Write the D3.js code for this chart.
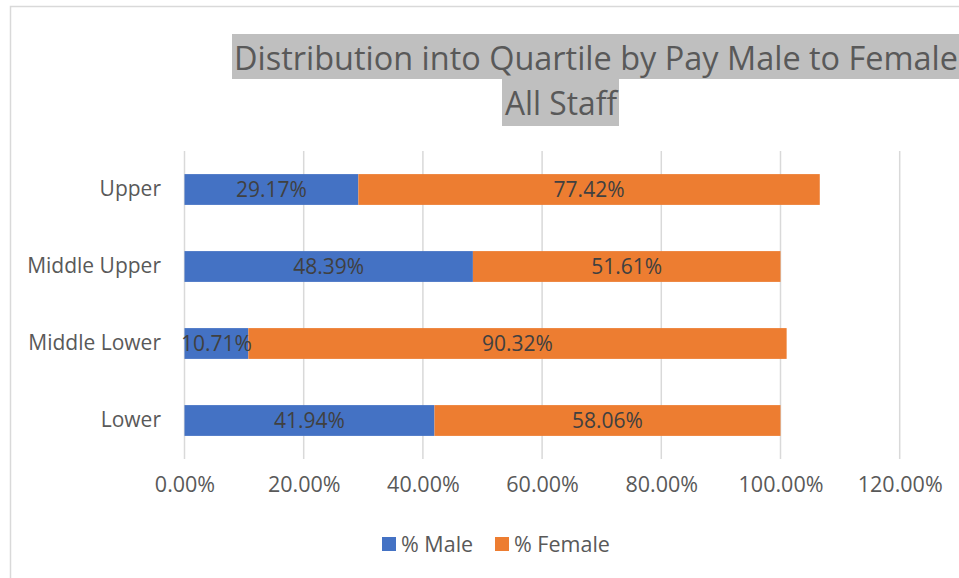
<!DOCTYPE html>
<html>
<head>
<meta charset="utf-8">
<script src="https://cdn.jsdelivr.net/npm/d3@7"></script>
<style>
  body { margin: 0; background: #fff; }
  text { font-family: "Open Sans", sans-serif; }
</style>
</head>
<body>
<div id="chart"></div>
<script>
// data
var quartiles = ["Upper", "Middle Upper", "Middle Lower", "Lower"];
var malePct = [29.17, 48.39, 10.71, 41.94];
var femalePct = [77.42, 51.61, 90.32, 58.06];
var tickValues = [0, 20, 40, 60, 80, 100, 120];
var seriesNames = ["% Male", "% Female"];
var seriesColors = ["#4472c4", "#ed7d31"];

var svgWidth = 959;
var svgHeight = 578;

var svg = d3.select("#chart").append("svg")
  .attr("width", svgWidth)
  .attr("height", svgHeight);

// chart border
svg.append("rect")
  .attr("x", 10.5).attr("y", 6.5)
  .attr("width", 1000).attr("height", 600)
  .attr("fill", "#fff")
  .attr("stroke", "#d9d9d9")
  .attr("stroke-width", 1.5);

// title with grey highlight
svg.append("rect")
  .attr("x", 232).attr("y", 34)
  .attr("width", 740).attr("height", 45)
  .attr("fill", "#bfbfbf");
svg.append("rect")
  .attr("x", 502).attr("y", 79)
  .attr("width", 117).attr("height", 47)
  .attr("fill", "#bfbfbf");
svg.append("text")
  .attr("x", 234).attr("y", 70)
  .attr("font-size", 32)
  .attr("fill", "#595959")
  .attr("textLength", 724)
  .attr("lengthAdjust", "spacingAndGlyphs")
  .text("Distribution into Quartile by Pay Male to Female");
svg.append("text")
  .attr("x", 505).attr("y", 115)
  .attr("font-size", 32)
  .attr("fill", "#595959")
  .attr("textLength", 112)
  .attr("lengthAdjust", "spacingAndGlyphs")
  .text("All Staff");

// scales
var xScale = d3.scaleLinear()
  .domain([0, 120])
  .range([184.5, 899.7]);

var yScale = d3.scaleBand()
  .domain(quartiles)
  .range([151, 459])
  .paddingInner(0.6)
  .paddingOuter(0.3);

// gridlines
svg.append("g")
  .selectAll("line")
  .data(tickValues)
  .enter()
  .append("line")
  .attr("x1", d => xScale(d))
  .attr("x2", d => xScale(d))
  .attr("y1", 151)
  .attr("y2", 459)
  .attr("stroke", "#d9d9d9")
  .attr("stroke-width", 1.5);

// x axis labels
var xAxis = d3.axisBottom(xScale)
  .tickValues(tickValues)
  .tickFormat(d => d.toFixed(2) + "%")
  .tickSize(0)
  .tickPadding(0);
var xAxisGroup = svg.append("g")
  .attr("transform", "translate(0, 477)")
  .call(xAxis);
xAxisGroup.select(".domain").remove();
xAxisGroup.selectAll("text")
  .attr("font-family", "Open Sans, sans-serif")
  .attr("font-size", 21.5)
  .attr("fill", "#595959");

// y axis labels
var yAxis = d3.axisLeft(yScale).tickSize(0).tickPadding(0);
var yAxisGroup = svg.append("g")
  .attr("transform", "translate(161, 0)")
  .call(yAxis);
yAxisGroup.select(".domain").remove();
yAxisGroup.selectAll("text")
  .attr("font-family", "Open Sans, sans-serif")
  .attr("font-size", 21)
  .attr("fill", "#595959");

// stacked segments
var rows = quartiles.map((q, i) => ({ q: q, vals: [malePct[i], femalePct[i]] }));
var segs = [];
rows.forEach(function(r) {
  var start = 0;
  r.vals.forEach(function(v, s) {
    segs.push({ q: r.q, s: s, x0: start, x1: start + v, v: v });
    start += v;
  });
});

var barGroup = svg.append("g");
barGroup.selectAll("rect")
  .data(segs)
  .enter()
  .append("rect")
  .attr("x", d => xScale(d.x0))
  .attr("y", d => yScale(d.q))
  .attr("width", d => xScale(d.x1) - xScale(d.x0))
  .attr("height", yScale.bandwidth())
  .attr("fill", d => seriesColors[d.s]);

barGroup.selectAll("text")
  .data(segs)
  .enter()
  .append("text")
  .attr("x", d => (xScale(d.x0) + xScale(d.x1)) / 2)
  .attr("y", d => yScale(d.q) + yScale.bandwidth() / 2 + 7.5)
  .attr("text-anchor", "middle")
  .attr("font-size", 21)
  .attr("fill", "#404040")
  .text(d => d.v.toFixed(2) + "%");

// legend
var legendX = [382, 495];
var legend = svg.append("g").selectAll("g")
  .data(seriesNames)
  .enter()
  .append("g")
  .attr("transform", (d, i) => `translate(${legendX[i]}, 537)`);
legend.append("rect")
  .attr("width", 14).attr("height", 14)
  .attr("fill", (d, i) => seriesColors[i]);
legend.append("text")
  .attr("x", 19).attr("y", 14.5)
  .attr("font-size", 21.5)
  .attr("fill", "#595959")
  .text(d => d);
</script>
</body>
</html>
